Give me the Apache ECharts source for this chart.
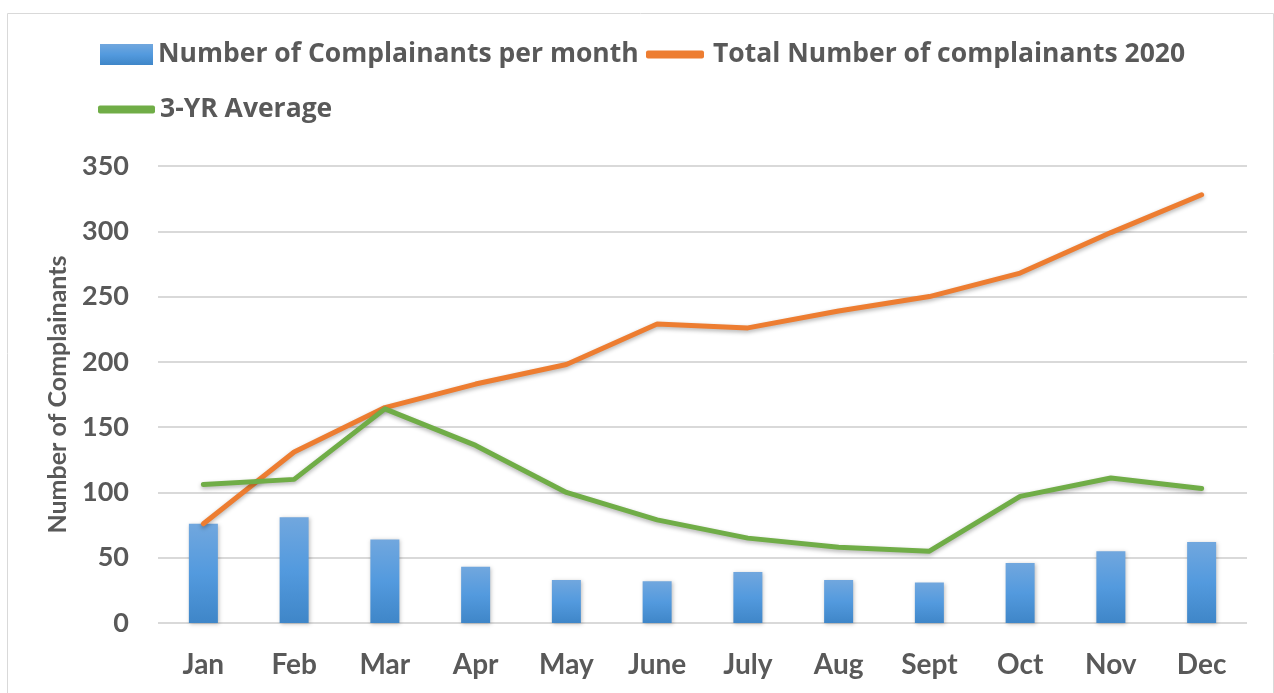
<!DOCTYPE html>
<html>
<head>
<meta charset="utf-8">
<script src="https://cdn.jsdelivr.net/npm/echarts@6/dist/echarts.min.js"></script>
<style>
  html, body { margin: 0; padding: 0; background: #fff; }
  #chart { width: 1274px; height: 693px; }
</style>
</head>
<body>
<div id="chart"></div>
<script>
var months = ['Jan', 'Feb', 'Mar', 'Apr', 'May', 'June', 'July', 'Aug', 'Sept', 'Oct', 'Nov', 'Dec'];
var perMonth = [76, 81, 64, 43, 33, 32, 39, 33, 31, 46, 55, 62];
var total2020 = [76, 131, 165, 183, 198, 229, 226, 239, 250, 268, 299, 328];
var threeYrAvg = [106, 110, 164, 136, 100, 79, 65, 58, 55, 97, 111, 103];

var textGray = '#595959';
var font = 'Lato';

var chart = echarts.init(document.getElementById('chart'));

function oneLegend(name, left, top, icon, w, h, gap) {
  return {
    data: [{ name: name, icon: icon }],
    left: left, top: top,
    itemWidth: w, itemHeight: h, itemGap: 0,
    padding: 0,
    textStyle: { color: textGray, fontFamily: 'Open Sans', fontWeight: 'bold', fontSize: 26.5, padding: [0, 0, 0, gap] }
  };
}

chart.setOption({
  animation: false,
  graphic: [{
    type: 'rect', left: 5, top: 11,
    shape: { width: 1266, height: 680 },
    style: { fill: 'none', stroke: '#d9d9d9', lineWidth: 1 }
  }],
  legend: [
    oneLegend('Number of Complainants per month', 100, 41, 'rect', 53, 21, 0),
    oneLegend('Total Number of complainants 2020', 646, 41, 'roundRect', 58, 8, 4),
    oneLegend('3-YR Average', 98, 96, 'roundRect', 57, 8, 0)
  ],
  grid: { left: 158, right: 27, top: 166, bottom: 70 },
  xAxis: {
    type: 'category',
    data: months,
    axisLine: { show: false },
    axisTick: { show: false },
    axisLabel: { color: textGray, fontFamily: font, fontWeight: 'bold', fontSize: 28, margin: 28 }
  },
  yAxis: {
    type: 'value',
    min: 0, max: 350, interval: 50,
    name: 'Number of Complainants',
    nameLocation: 'middle',
    nameGap: 88,
    nameTextStyle: { color: textGray, fontFamily: font, fontWeight: 'bold', fontSize: 25 },
    axisLine: { show: false },
    axisTick: { show: false },
    axisLabel: { color: textGray, fontFamily: font, fontWeight: 'bold', fontSize: 27, margin: 29 },
    splitLine: { lineStyle: { color: '#d9d9d9', width: 2 } }
  },
  series: [{
    name: 'Number of Complainants per month',
    type: 'bar',
    data: perMonth,
    barWidth: 29,
    itemStyle: {
      color: new echarts.graphic.LinearGradient(0, 0, 0, 1, [
        { offset: 0, color: '#71a7de' },
        { offset: 0.5, color: '#539ade' },
        { offset: 1, color: '#3f86c8' }
      ]),
      shadowBlur: 4, shadowColor: 'rgba(0,0,0,0.25)', shadowOffsetX: 1, shadowOffsetY: 1
    }
  }, {
    name: 'Total Number of complainants 2020',
    type: 'line',
    data: total2020,
    symbol: 'none',
    itemStyle: { color: '#ed7d31' },
    lineStyle: { color: '#ed7d31', width: 5, cap: 'round', join: 'round',
      shadowBlur: 4, shadowColor: 'rgba(0,0,0,0.3)', shadowOffsetY: 2 }
  }, {
    name: '3-YR Average',
    type: 'line',
    data: threeYrAvg,
    symbol: 'none',
    itemStyle: { color: '#70ad47' },
    lineStyle: { color: '#70ad47', width: 5, cap: 'round', join: 'round',
      shadowBlur: 4, shadowColor: 'rgba(0,0,0,0.3)', shadowOffsetY: 2 }
  }]
});
</script>
</body>
</html>
